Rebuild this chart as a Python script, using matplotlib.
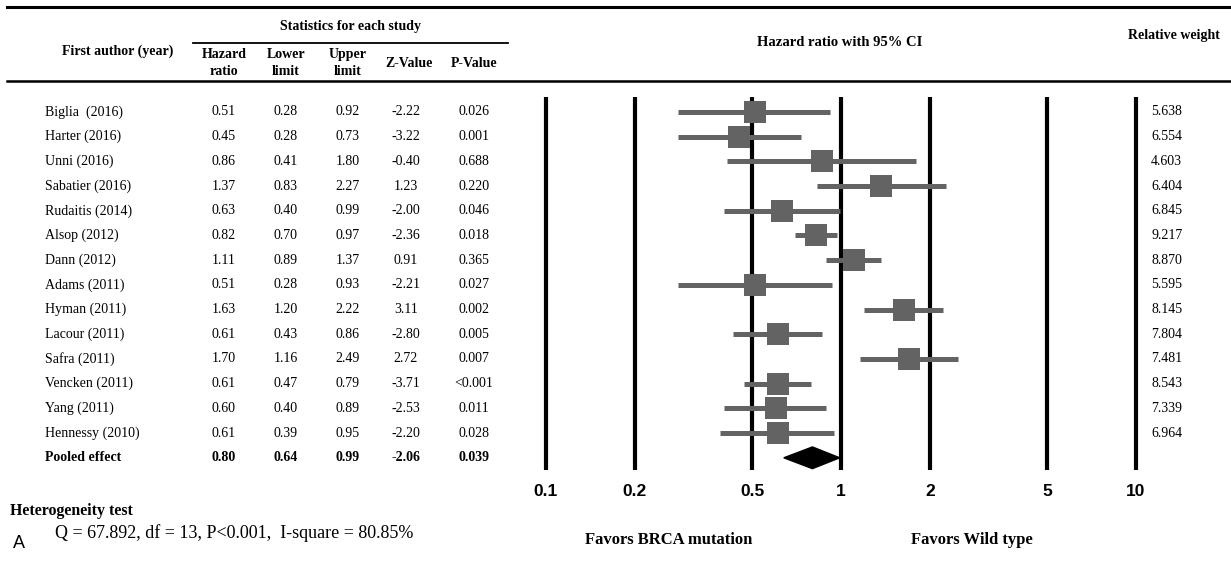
import numpy as np
import matplotlib
matplotlib.use("Agg")
import matplotlib.pyplot as plt
import matplotlib.transforms as mtransforms
from matplotlib.patches import Polygon

studies = ["Biglia  (2016)", "Harter (2016)", "Unni (2016)", "Sabatier (2016)",
           "Rudaitis (2014)", "Alsop (2012)", "Dann (2012)", "Adams (2011)",
           "Hyman (2011)", "Lacour (2011)", "Safra (2011)", "Vencken (2011)",
           "Yang (2011)", "Hennessy (2010)"]
hr = [0.51, 0.45, 0.86, 1.37, 0.63, 0.82, 1.11, 0.51, 1.63, 0.61, 1.70, 0.61, 0.60, 0.61]
lower = [0.28, 0.28, 0.41, 0.83, 0.40, 0.70, 0.89, 0.28, 1.20, 0.43, 1.16, 0.47, 0.40, 0.39]
upper = [0.92, 0.73, 1.80, 2.27, 0.99, 0.97, 1.37, 0.93, 2.22, 0.86, 2.49, 0.79, 0.89, 0.95]
zval = ["-2.22", "-3.22", "-0.40", "1.23", "-2.00", "-2.36", "0.91", "-2.21", "3.11",
        "-2.80", "2.72", "-3.71", "-2.53", "-2.20"]
pval = ["0.026", "0.001", "0.688", "0.220", "0.046", "0.018", "0.365", "0.027", "0.002",
        "0.005", "0.007", "<0.001", "0.011", "0.028"]
weights = ["5.638", "6.554", "4.603", "6.404", "6.845", "9.217", "8.870", "5.595",
           "8.145", "7.804", "7.481", "8.543", "7.339", "6.964"]
pooled = {"hr": 0.80, "lo": 0.64, "hi": 0.99, "z": "-2.06", "p": "0.039"}
ticks = [0.1, 0.2, 0.5, 1, 2, 5, 10]
tick_labels = ["0.1", "0.2", "0.5", "1", "2", "5", "10"]

W, H = 1231, 561
SERIF = "Liberation Serif"
SANS = "Liberation Sans"
grey = "#636363"

fig = plt.figure(figsize=(W / 100, H / 100), dpi=100)
bg = fig.add_axes([0, 0, 1, 1])
bg.set_xlim(0, W)
bg.set_ylim(H, 0)
bg.axis("off")

# forest axes: 0.1 at px 546, 10 at px 1136 (295 px per decade)
ppd = 295.0
ax_l, ax_r = 530, 1152
ax_t, ax_b = 97, 470
ax = fig.add_axes([ax_l / W, 1 - ax_b / H, (ax_r - ax_l) / W, (ax_b - ax_t) / H])
ax.set_xscale("log")
ax.set_xlim(10 ** (-1 - (546 - ax_l) / ppd), 10 ** (1 + (ax_r - 1136) / ppd))
row0, rowh = 112, 24.7
ax.set_ylim((ax_b - row0) / rowh, (ax_t - row0) / rowh)
ax.patch.set_alpha(0)
for s in ax.spines.values():
    s.set_visible(False)
ax.set_yticks([])
ax.set_xticks(ticks)
ax.set_xticklabels(tick_labels, fontfamily=SANS, fontweight="bold", fontsize=12.5)
ax.xaxis.set_minor_locator(matplotlib.ticker.NullLocator())
ax.tick_params(axis="x", length=0, pad=10)

for t in ticks:
    ax.axvline(t, color="black", lw=3.0, zorder=1)

rows = np.arange(len(studies))
ax.hlines(rows, lower, upper, color=grey, lw=3.6, zorder=2)
ax.scatter(hr, rows, marker="s", s=240, color=grey, zorder=3, linewidths=0)

pr = len(studies)
dh = 0.44
diamond = Polygon([[pooled["lo"], pr], [pooled["hr"], pr - dh], [pooled["hi"], pr],
                   [pooled["hr"], pr + dh]], closed=True, color="black", zorder=3)
ax.add_patch(diamond)

# table text: x in pixels, y in row units
tr = mtransforms.blended_transform_factory(bg.transData, ax.transData)
cols = [224, 286, 348, 406, 474]
fs = 10
for i in range(len(studies)):
    bg.text(45, i, studies[i], transform=tr, ha="left", va="center", fontfamily=SERIF, fontsize=fs)
    vals = ["%.2f" % hr[i], "%.2f" % lower[i], "%.2f" % upper[i], zval[i], pval[i]]
    for x, v in zip(cols, vals):
        bg.text(x, i, v, transform=tr, ha="center", va="center", fontfamily=SERIF, fontsize=fs)
    bg.text(1151, i, weights[i], transform=tr, ha="left", va="center", fontfamily=SERIF, fontsize=fs)

bg.text(45, pr, "Pooled effect", transform=tr, ha="left", va="center", fontfamily=SERIF,
        fontsize=fs, fontweight="bold")
pvals = ["%.2f" % pooled["hr"], "%.2f" % pooled["lo"], "%.2f" % pooled["hi"], pooled["z"], pooled["p"]]
for x, v in zip(cols, pvals):
    bg.text(x, pr, v, transform=tr, ha="center", va="center", fontfamily=SERIF, fontsize=fs,
            fontweight="bold")

# header rules
bg.plot([7, W], [7, 7], color="black", lw=2.2)
bg.plot([7, W], [81, 81], color="black", lw=1.8)
bg.plot([193, 508], [43, 43], color="black", lw=1.3)

hb = dict(fontfamily=SERIF, fontweight="bold", fontsize=10)
bg.text(351, 26, "Statistics for each study", ha="center", va="center", **hb)
bg.text(118, 51, "First author (year)", ha="center", va="center", **hb)
bg.text(cols[0], 63, "Hazard\nratio", ha="center", va="center", linespacing=1.35, **hb)
bg.text(cols[1], 63, "Lower\nlimit", ha="center", va="center", linespacing=1.35, **hb)
bg.text(cols[2], 63, "Upper\nlimit", ha="center", va="center", linespacing=1.35, **hb)
bg.text(409, 63, "Z-Value", ha="center", va="center", **hb)
bg.text(474, 63, "P-Value", ha="center", va="center", **hb)
bg.text(840, 42, "Hazard ratio with 95% CI", ha="center", va="center",
        fontfamily=SERIF, fontweight="bold", fontsize=10.5)
bg.text(1174, 35, "Relative weight", ha="center", va="center", **hb)

# footer
bg.text(10, 511, "Heterogeneity test", ha="left", va="center", fontfamily=SERIF,
        fontweight="bold", fontsize=11.4)
bg.text(55, 533, "Q = 67.892, df = 13, P<0.001,  I-square = 80.85%", ha="left", va="center",
        fontfamily=SERIF, fontsize=13)
bg.text(13, 544, "A", ha="left", va="center", fontfamily=SANS, fontsize=13)
bg.text(669, 540, "Favors BRCA mutation", ha="center", va="center", fontfamily=SERIF,
        fontweight="bold", fontsize=12)
bg.text(972, 540, "Favors Wild type", ha="center", va="center", fontfamily=SERIF,
        fontweight="bold", fontsize=12)

fig.savefig("out.png", dpi=100)
